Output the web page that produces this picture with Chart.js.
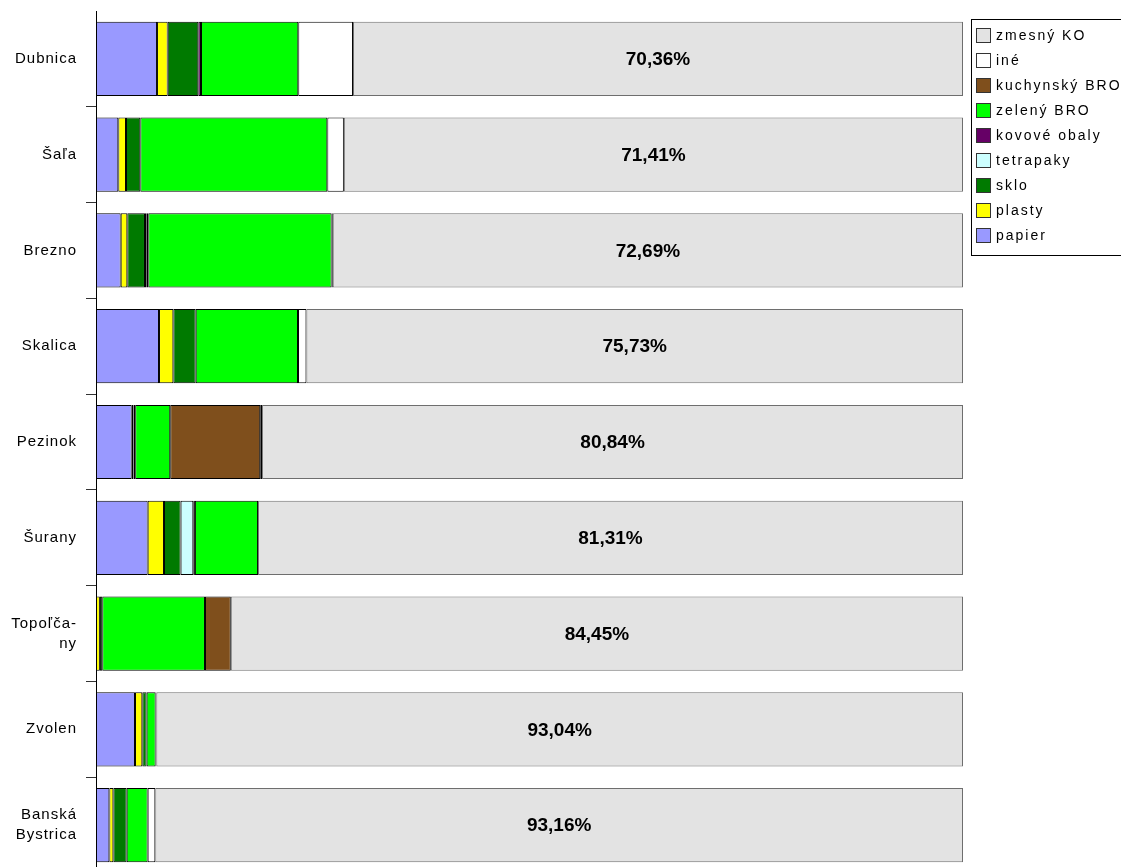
<!DOCTYPE html>
<html>
<head>
<meta charset="utf-8">
<script src="https://cdn.jsdelivr.net/npm/chart.js@4"></script>
<style>
  html, body { margin: 0; padding: 0; background: #fff; overflow: hidden; }
  #wrap { position: relative; width: 1121px; height: 880px; }
</style>
</head>
<body>
<div id="wrap"><canvas id="chart"></canvas></div>
<script>
/* podiel zložiek odpadu — 100 % stacked bars */

const cities = ["Dubnica", "Šaľa", "Brezno", "Skalica", "Pezinok", "Šurany", ["Topoľča-", "ny"], "Zvolen", ["Banská", "Bystrica"]];

const papier     = [7.04, 2.57, 2.85, 7.27, 4.12, 5.96, 0,     4.50, 1.54];
const plasty     = [1.23, 0.89, 0.76, 1.65, 0.20, 1.88, 0.45,  0.84, 0.46];
const sklo       = [3.53, 1.65, 2.04, 2.58, 0.20, 1.92, 0.27,  0.50, 1.54];
const tetrapaky  = [0,    0,    0.15, 0,    0,    1.46, 0,     0,    0];
const kovove     = [0.31, 0,    0.23, 0,    0,    0.19, 0,     0,    0];
const zelenyBRO  = [11.22, 21.57, 21.15, 11.80, 4.04, 7.28, 11.85, 1.04, 2.42];
const kuchynBRO  = [0,    0,    0,    0,    10.38, 0,   2.98,  0,    0];
const ine        = [6.31, 1.91, 0.13, 0.97, 0.22, 0,    0,     0.08, 0.88];
const zmesnyKO   = [70.36, 71.41, 72.69, 75.73, 80.84, 81.31, 84.45, 93.04, 93.16];

const COLORS = {
  papier:    "#9999ff",
  plasty:    "#ffff00",
  sklo:      "#007a00",
  tetrapaky: "#ccffff",
  kovove:    "#660066",
  zeleny:    "#00ff00",
  kuchyn:    "#7f4f1c",
  ine:       "#ffffff",
  zmesny:    "#e3e3e3",
};

const FONT = "'Liberation Sans', Arial, sans-serif";

function ds(label, data, color, border = "#000") {
  return { label, data, backgroundColor: color, borderColor: border, borderWidth: 1, borderSkipped: false };
}

const datasets = [
  ds("papier", papier, COLORS.papier),
  ds("plasty", plasty, COLORS.plasty),
  ds("sklo", sklo, COLORS.sklo),
  ds("tetrapaky", tetrapaky, COLORS.tetrapaky),
  ds("kovové obaly", kovove, COLORS.kovove),
  ds("zelený BRO", zelenyBRO, COLORS.zeleny),
  ds("kuchynský BRO", kuchynBRO, COLORS.kuchyn),
  ds("iné", ine, COLORS.ine),
  ds("zmesný KO", zmesnyKO, COLORS.zmesny, "#6e6e6e"),
];

// wide GDI-like text
const spacing = {
  id: "spacing",
  beforeLayout(chart) { chart.ctx.letterSpacing = "1px"; },
  beforeDraw(chart) { chart.ctx.letterSpacing = "1px"; },
};

// percentage of zmesný KO in the middle of its segment
const pctLabels = {
  id: "pctLabels",
  afterDatasetsDraw(chart) {
    const ctx = chart.ctx;
    const meta = chart.getDatasetMeta(datasets.length - 1);
    ctx.save();
    ctx.letterSpacing = "0px";
    ctx.font = "bold 19px " + FONT;
    ctx.fillStyle = "#000";
    ctx.textAlign = "center";
    ctx.textBaseline = "middle";
    meta.data.forEach((bar, i) => {
      const txt = zmesnyKO[i].toFixed(2).replace(".", ",") + "%";
      ctx.fillText(txt, (bar.x + bar.base) / 2, bar.y + 1);
    });
    ctx.restore();
  },
};

// boxed legend on the right, top-down in reverse order
const boxLegend = {
  id: "boxLegend",
  afterDraw(chart) {
    const ctx = chart.ctx;
    const left = 971, top = 19, rowH = 25;
    const items = chart.data.datasets.slice().reverse();
    ctx.save();
    ctx.letterSpacing = "2px";
    ctx.strokeStyle = "#000";
    ctx.lineWidth = 1;
    ctx.strokeRect(left + 0.5, top + 0.5, 200, 236);
    ctx.font = "14px " + FONT;
    ctx.textBaseline = "middle";
    ctx.textAlign = "left";
    items.forEach((d, i) => {
      const cy = top + 16 + i * rowH;
      ctx.fillStyle = d.backgroundColor;
      ctx.fillRect(976, cy - 7, 14, 14);
      ctx.strokeStyle = "#333";
      ctx.strokeRect(976.5, cy - 6.5, 14, 14);
      ctx.fillStyle = "#000";
      ctx.fillText(d.label, 996, cy + 1);
    });
    ctx.restore();
  },
};

new Chart(document.getElementById("chart"), {
  type: "bar",
  data: { labels: cities, datasets },
  options: {
    indexAxis: "y",
    responsive: true,
    maintainAspectRatio: false,
    animation: false,
    layout: { padding: { left: 0, right: 158, top: 11, bottom: 7 } },
    datasets: { bar: { barPercentage: 0.775, categoryPercentage: 1 } },
    plugins: { legend: { display: false }, tooltip: { enabled: false } },
    scales: {
      x: { stacked: true, min: 0, max: 100, display: false },
      y: {
        stacked: true,
        afterFit: (s) => { s.width = 96; s.paddingTop = 0; s.paddingBottom = 0; },
        grid: {
          drawOnChartArea: false,
          tickLength: 10,
          offset: true,
          color: (c) => (c.index === 0 ? "rgba(0,0,0,0)" : "#333"),
        },
        border: { display: true, color: "#000", width: 1 },
        ticks: { color: "#000", padding: 9, font: { family: FONT, size: 15, lineHeight: 1.35 } },
      },
    },
  },
  plugins: [spacing, pctLabels, boxLegend],
});
</script>
</body>
</html>
